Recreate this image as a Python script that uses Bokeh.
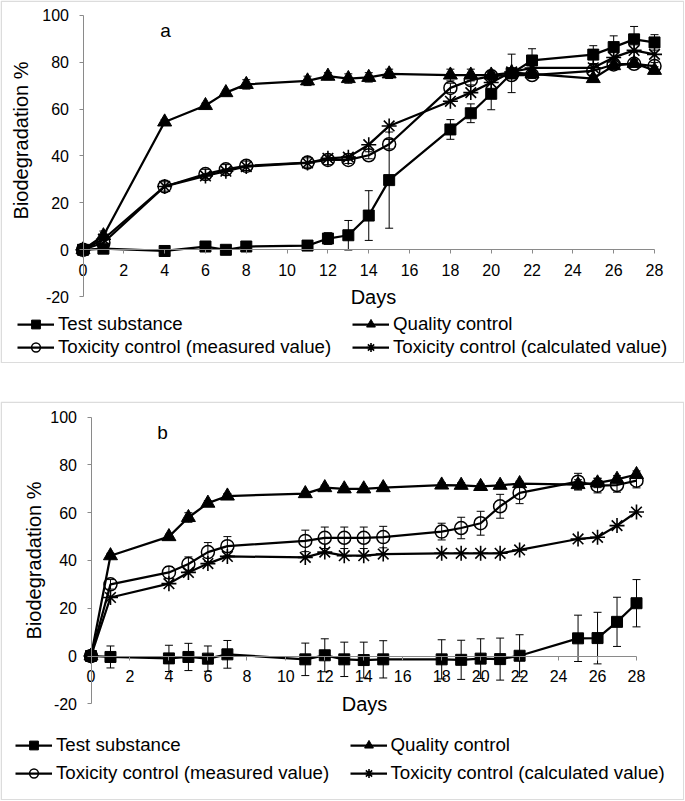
import math
from bokeh.plotting import figure
from bokeh.models import (ColumnDataSource, Whisker, TeeHead, Legend, LegendItem,
                          Label, BoxAnnotation, FixedTicker, Range1d)
from bokeh.layouts import column
from bokeh.embed import file_html
from bokeh.resources import INLINE

FONT = "Liberation Sans"

# ---------------- data: panel a ----------------
days_a = [0, 1, 4, 6, 7, 8, 11, 12, 13, 14, 15, 18, 19, 20, 21, 22, 25, 26, 27, 28]
test_a = [0, 0.5, -0.5, 1.4, 0, 1.4, 1.8, 4.8, 6.2, 14.6, 29.7, 51.3, 58.2, 66.5, 75.2, 80.7, 83.2, 86.4, 89.7, 88.4]
test_a_err = [0.5, 0.5, 0.5, 0.5, 0.5, 0.5, 0.5, 2.5, 6.3, 10.6, 20.5, 4.2, 4.0, 6.8, 8.2, 5.0, 3.8, 4.8, 5.5, 3.3]
qc_a = [0, 6, 54.5, 61.5, 67, 70.5, 72, 74, 73, 73.5, 75, 74.5, 74.5, 74.5, 75.5, 75, 73, 78.5, 79.5, 76.5]
qc_a_err = [0.5, 2, 1, 1, 1, 2, 2, 1.5, 2, 2, 2, 2.5, 2.5, 2, 2, 1.5, 1.5, 1.5, 1.5, 1.5]
meas_a = [0, 3, 27, 32.3, 34.3, 35.8, 37.2, 38.3, 38.3, 40.3, 45, 69, 72.3, 74, 74.5, 74.5, 76.3, 79, 79.3, 78.3]
meas_a_err = [1, 1, 2, 2, 2, 2, 2, 2, 1.5, 1.5, 2, 2, 2, 1.5, 1.5, 1.5, 2, 1.5, 1.5, 1.5]
calc_a = [0, 4.5, 27, 31.5, 33.5, 35.5, 37, 39, 39.5, 44.8, 52.8, 63.3, 67, 71.3, 75.8, 77.5, 77.6, 82, 85, 83.3]

# ---------------- data: panel b ----------------
days_b = [0, 1, 4, 5, 6, 7, 11, 12, 13, 14, 15, 18, 19, 20, 21, 22, 25, 26, 27, 28]
test_b = [0, -0.4, -1, -0.4, -1.1, 0.7, -1.4, 0.3, -1.4, -1.7, -1.4, -1.4, -1.6, -1.1, -1.3, 0.1, 7.4, 7.5, 14.3, 22.1]
test_b_err = [0.5, 4.6, 5.5, 5.7, 5.3, 5.8, 6.8, 6.9, 7.2, 7.5, 7.8, 8.2, 8.2, 8.3, 8.8, 8.8, 9.7, 10.8, 10.3, 9.9]
qc_b = [0, 42, 50, 58, 64, 67, 68, 70.5, 70, 70, 70.5, 71.6, 71.5, 71, 71.5, 72.2, 71.8, 72.5, 74, 76]
qc_b_err = [0.5, 1, 1, 2, 1, 1, 1, 1, 1, 1, 1, 1, 1, 1, 1, 1, 2, 2, 1.5, 1.5]
meas_b = [0, 30, 35, 38.5, 43.5, 46, 48.2, 49.5, 49.5, 49.5, 49.8, 52.1, 53.6, 55.6, 62.7, 68.3, 73, 71.3, 71.6, 73.4]
meas_b_err = [0.5, 2, 2.5, 3, 4, 4, 4.5, 4.5, 4.5, 4.5, 4.5, 3.5, 4.5, 5, 5, 4.5, 3.5, 3, 3, 3]
calc_b = [0, 24.5, 30.3, 35, 38.7, 41.7, 41.3, 43.5, 42, 42, 42.7, 43, 43, 43, 43, 44.4, 49, 49.7, 54.6, 60.3]

x_ticks = [0, 2, 4, 6, 8, 10, 12, 14, 16, 18, 20, 22, 24, 26, 28]
y_ticks = [-20, 0, 20, 40, 60, 80, 100]
names = ["Test substance", "Quality control",
         "Toxicity control (measured value)", "Toxicity control (calculated value)"]


def make_panel(days, test, test_err, qc, qc_err, meas, meas_err, calc, letter, g):
    W, H = g["W"], g["H"]
    x0px, x28px, y0px, y100px = g["anchors"]
    sx = (x28px - x0px) / 28.0
    sy = (y0px - y100px) / 100.0
    xs, xe = (0 - x0px) / sx, (W - x0px) / sx
    ys, ye = (y0px - H) / sy, (y0px - 0) / sy

    p = figure(frame_width=W, frame_height=H,
               min_border_left=0, min_border_right=0,
               min_border_top=0, min_border_bottom=0,
               x_range=Range1d(xs, xe), y_range=Range1d(ys, ye),
               output_backend="svg", toolbar_location=None)
    p.outline_line_color = None
    p.xgrid.visible = False
    p.ygrid.visible = False
    p.background_fill_color = "white"
    p.border_fill_color = "white"

    for ax, ticks, bnds in ((p.xaxis[0], x_ticks, (0, 28)), (p.yaxis[0], y_ticks, (-20, 100))):
        ax.ticker = FixedTicker(ticks=ticks)
        ax.bounds = bnds
        ax.fixed_location = 0
        ax.axis_line_color = "#8a8a8a"
        ax.axis_line_width = 1
        ax.major_tick_line_color = "#8a8a8a"
        ax.major_tick_out = 4
        ax.major_tick_in = 0
        ax.minor_tick_line_color = None
        ax.major_label_text_font = FONT
        ax.major_label_text_font_size = "16px"
        ax.major_label_text_color = "black"
    p.xaxis[0].major_label_standoff = g["xstand"]
    p.yaxis[0].major_label_standoff = g["ystand"]
    p.yaxis[0].major_label_overrides = {-20: "-20"}

    def errbars(vals, errs):
        src = ColumnDataSource(dict(x=days,
                                    upper=[v + e for v, e in zip(vals, errs)],
                                    lower=[v - e for v, e in zip(vals, errs)]))
        w = Whisker(source=src, base="x", upper="upper", lower="lower",
                    line_color="black", line_width=1,
                    upper_head=TeeHead(size=8, line_color="black", line_width=1),
                    lower_head=TeeHead(size=8, line_color="black", line_width=1))
        p.add_layout(w)

    errbars(test, test_err)
    errbars(qc, qc_err)
    errbars(meas, meas_err)

    lw = 2.25
    l1 = p.line(days, test, line_color="black", line_width=lw)
    s1 = p.scatter(days, test, marker="square", size=11, fill_color="black", line_color="black")
    l2 = p.line(days, qc, line_color="black", line_width=lw)
    s2 = p.scatter(days, qc, marker="triangle", size=14, fill_color="black", line_color="black")
    l3 = p.line(days, meas, line_color="black", line_width=lw)
    s3 = p.scatter(days, meas, marker="circle", size=13, fill_color=None, line_color="black", line_width=1.5)
    l4 = p.line(days, calc, line_color="black", line_width=lw)
    s4 = p.scatter(days, calc, marker="asterisk", size=15, line_color="black", line_width=1.6)
    rends = [[l1, s1], [l2, s2], [l3, s3], [l4, s4]]

    lx1, lx2, lyb, lsp = g["legend"]
    for cols, lx in (((0, 2), lx1), ((1, 3), lx2)):
        items = [LegendItem(label=names[i], renderers=rends[i]) for i in cols]
        leg = Legend(items=items, location=(lx, lyb), orientation="vertical",
                     glyph_width=37, glyph_height=22, label_height=22,
                     label_standoff=4, spacing=lsp, padding=0, margin=0,
                     border_line_color=None, background_fill_alpha=0,
                     label_text_font=FONT, label_text_font_size="18.7px",
                     label_text_color="black")
        p.add_layout(leg)

    lx, ly = g["letter"]
    p.add_layout(Label(x=lx, y=ly, text=letter, text_font=FONT, text_font_size="19px",
                       text_align="center", text_baseline="middle", text_color="black"))
    dx, dy = g["days"]
    p.add_layout(Label(x=dx, y=dy, text="Days", text_font=FONT, text_font_size="20px",
                       text_align="center", text_baseline="middle", text_color="black"))
    bx, by = g["ytitle"]
    p.add_layout(Label(x=bx, y=by, text="Biodegradation %", angle=math.pi / 2,
                       text_font=FONT, text_font_size="20px",
                       text_align="center", text_baseline="middle", text_color="black"))

    p.add_layout(BoxAnnotation(left=0.75, right=W - 0.75, top=0.75, bottom=H - 0.75,
                               left_units="canvas", right_units="canvas",
                               top_units="canvas", bottom_units="canvas",
                               fill_color=None, fill_alpha=0,
                               line_color="#8c8c8c", line_width=1.5, level="overlay"))
    return p


geom_a = dict(W=684, H=363, anchors=(82.5, 654.0, 249.3, 14.7), xstand=10, ystand=10,
              legend=(17, 352, 5.3, 1), letter=(4.04, 93.5), days=(14.23, -20.0),
              ytitle=(-3.06, 46.6))
geom_b = dict(W=684, H=399, anchors=(90.5, 636.0, 254.5, 15.7), xstand=10, ystand=10,
              legend=(15, 349.5, 15.7, 6), letter=(3.67, 93.6), days=(14.04, -20.0),
              ytitle=(-2.95, 40.0))

pa = make_panel(days_a, test_a, test_a_err, qc_a, qc_a_err, meas_a, meas_a_err, calc_a, "a", geom_a)
pb = make_panel(days_b, test_b, test_b_err, qc_b, qc_b_err, meas_b, meas_b_err, calc_b, "b", geom_b)

layout = column(pa, pb, spacing=38)
open("out.html", "w").write(file_html(layout, INLINE))
